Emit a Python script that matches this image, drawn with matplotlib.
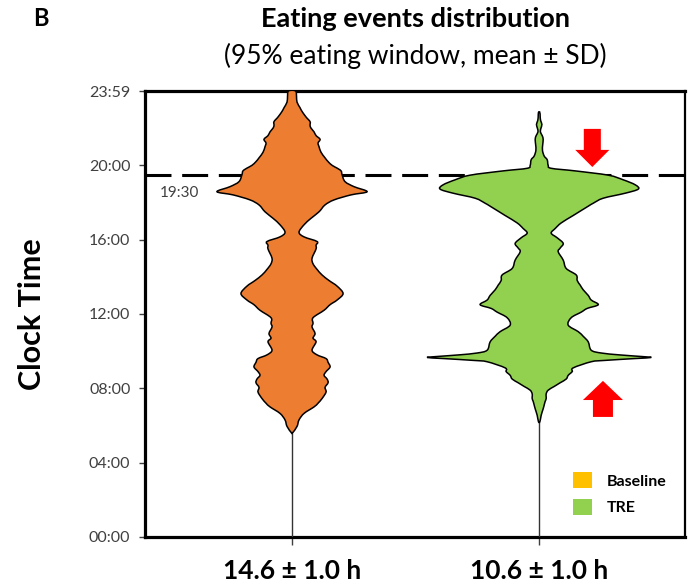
import matplotlib
matplotlib.use("Agg")
import matplotlib.pyplot as plt
import numpy as np
from matplotlib.patches import Patch, FancyArrow, PathPatch
from matplotlib.path import Path

plt.rcParams["font.family"] = ["Lato", "DejaVu Sans"]

# Eating-event density profiles (clock hour -> relative density)
groups = ["Baseline", "TRE"]
window_labels = ["14.6 \u00b1 1.0 h", "10.6 \u00b1 1.0 h"]
fill_colors = ["#ED7D31", "#92D050"]
legend_colors = ["#FFC000", "#92D050"]

baseline_hours = [24.0, 23.7, 23.4, 23.1, 22.9, 22.6, 22.35, 22.15, 22.0, 21.8,
                  21.6, 21.4, 21.2, 21.0, 20.7, 20.4, 20.2, 20.0, 19.85, 19.7,
                  19.5, 19.12, 18.85, 18.58, 18.41, 18.14, 17.87, 17.5, 17.15, 16.8,
                  16.4, 16.15, 15.9, 15.7, 15.5, 15.0, 14.7, 14.4, 14.1, 13.8,
                  13.5, 13.1, 12.75, 12.5, 12.2, 11.8, 11.5, 11.3, 10.95, 10.7,
                  10.5, 10.05, 9.8, 9.6, 9.4, 9.15, 8.9, 8.7, 8.5, 8.3,
                  8.05, 7.8, 7.45, 7.2, 7.0, 6.65, 6.3, 5.95, 5.6]
baseline_density = [0.035, 0.045, 0.05, 0.08, 0.10, 0.14, 0.18, 0.18, 0.19, 0.22,
                    0.24, 0.28, 0.26, 0.27, 0.29, 0.33, 0.36, 0.40, 0.45, 0.49,
                    0.50, 0.53, 0.62, 0.75, 0.59, 0.42, 0.33, 0.27, 0.19, 0.12,
                    0.07, 0.12, 0.25, 0.24, 0.24, 0.20, 0.21, 0.25, 0.30, 0.37,
                    0.45, 0.51, 0.45, 0.38, 0.32, 0.21, 0.21, 0.20, 0.23, 0.21,
                    0.24, 0.20, 0.25, 0.34, 0.36, 0.38, 0.34, 0.32, 0.35, 0.36,
                    0.33, 0.34, 0.30, 0.26, 0.22, 0.12, 0.07, 0.05, 0.005]

tre_hours = [22.85, 22.6, 22.4, 22.2, 22.0, 21.8, 21.6, 21.4, 21.1, 20.8,
             20.5, 20.3, 20.0, 19.84, 19.70, 19.47, 19.22, 18.95, 18.72, 18.50,
             18.23, 17.96, 17.8, 17.3, 16.9, 16.6, 16.35, 16.1, 15.8, 15.55,
             15.35, 14.9, 14.45, 14.1, 13.8, 13.55, 13.3, 13.0, 12.75, 12.5,
             12.3, 12.1, 11.8, 11.4, 11.05, 10.8, 10.5, 10.05, 9.9, 9.8,
             9.72, 9.66, 9.6, 9.5, 9.43, 9.1, 8.9, 8.7, 8.5, 8.3,
             8.1, 7.9, 7.7, 7.45, 7.3, 7.1, 6.9, 6.55, 6.2]
tre_density = [0.007, 0.01, 0.015, 0.027, 0.018, 0.012, 0.03, 0.04, 0.035, 0.033,
               0.05, 0.08, 0.09, 0.12, 0.36, 0.69, 0.84, 0.96, 0.99, 0.86,
               0.64, 0.54, 0.49, 0.34, 0.22, 0.16, 0.12, 0.18, 0.24, 0.21,
               0.19, 0.24, 0.27, 0.37, 0.38, 0.41, 0.44, 0.49, 0.52, 0.59,
               0.48, 0.42, 0.32, 0.29, 0.39, 0.44, 0.49, 0.52, 0.62, 0.80,
               1.00, 1.12, 0.95, 0.65, 0.52, 0.34, 0.33, 0.29, 0.27, 0.21,
               0.15, 0.09, 0.07, 0.07, 0.06, 0.05, 0.04, 0.02, 0.007]

window_end = 19.5
window_end_label = "19:30"
ytick_hours = [0, 4, 8, 12, 16, 20, 23.983]
ytick_labels = ["00:00", "04:00", "08:00", "12:00", "16:00", "20:00", "23:59"]

profiles = [(baseline_hours, baseline_density), (tre_hours, tre_density)]

HALF_WIDTH = 0.405  # data units per unit density


def smooth_outline(points):
    """Closed Bezier path passing through every outline point (Catmull-Rom)."""
    pts = np.asarray(points, dtype=float)
    n = len(pts)
    verts = [pts[0]]
    codes = [Path.MOVETO]
    for i in range(n):
        p0, p1, p2, p3 = pts[i - 1], pts[i], pts[(i + 1) % n], pts[(i + 2) % n]
        verts += [p1 + (p2 - p0) / 6.0, p2 - (p3 - p1) / 6.0, p2]
        codes += [Path.CURVE4] * 3
    return Path(verts, codes)


fig = plt.figure(figsize=(6.89, 5.87), dpi=100)
ax = fig.add_axes([0.2104, 0.0852, 0.7838, 0.7598])

for pos, (hours, dens), color in zip(range(len(groups)), profiles, fill_colors):
    half = [d * HALF_WIDTH for d in dens]
    right = [(pos + h, y) for h, y in zip(half, hours)]
    left = [(pos - h, y) for h, y in zip(half, hours)][::-1]
    ax.vlines(pos, 0, min(hours), color="#333333", linewidth=1.0, zorder=3)
    ax.add_patch(PathPatch(smooth_outline(right + left), facecolor=color,
                           edgecolor="black", linewidth=1.1, zorder=3))

ax.axhline(window_end, color="black", linewidth=2.2, dashes=(8.5, 3.5), zorder=1)
ax.text(-0.534, 18.5, window_end_label, fontsize=11, color="#404040",
        ha="left", va="center")

# arrows marking the later start and earlier end of eating
ax.add_patch(FancyArrow(1.215, 21.96, 0, -2.05, width=0.069, head_width=0.138,
                        head_length=0.92, length_includes_head=True,
                        color="#FF0000", linewidth=0, zorder=4))
ax.add_patch(FancyArrow(1.258, 6.46, 0, 1.94, width=0.081, head_width=0.162,
                        head_length=1.03, length_includes_head=True,
                        color="#FF0000", linewidth=0, zorder=4))

ax.set_xlim(-0.595, 1.59)
ax.set_ylim(0, 24)
ax.set_xticks(range(len(groups)))
ax.set_xticklabels(window_labels, fontsize=19, fontweight="bold")
ax.set_yticks(ytick_hours)
ax.set_yticklabels(ytick_labels, fontsize=11.5, color="#404040")
ax.tick_params(axis="y", length=4, width=1, color="#404040", pad=6.5)
ax.tick_params(axis="x", length=6, width=1, color="#404040", pad=10)

for side in ["left", "bottom", "top"]:
    ax.spines[side].set_linewidth(2.3)
ax.spines["right"].set_linewidth(1.6)

ax.set_ylabel("Clock Time", fontsize=22, fontweight="bold")
ax.yaxis.set_label_coords(-0.183, 0.5)

handles = [Patch(facecolor=c, edgecolor="none") for c in legend_colors]
fig.legend(handles, groups, loc="upper left", bbox_to_anchor=(0.8316, 0.1960),
           frameon=False, borderpad=0, borderaxespad=0, handlelength=1.2,
           handleheight=1.2, handletextpad=0.9, labelspacing=0.65,
           prop={"weight": "bold", "size": 11.5})

fig.text(0.060, 0.968, "B", fontsize=17, fontweight="bold", ha="center", va="center")
fig.text(0.603, 0.967, "Eating events distribution", fontsize=19.5,
         fontweight="bold", ha="center", va="center")
fig.text(0.603, 0.904, "(95% eating window, mean \u00b1 SD)", fontsize=19,
         ha="center", va="center")

fig.savefig("out.png", dpi=100)
